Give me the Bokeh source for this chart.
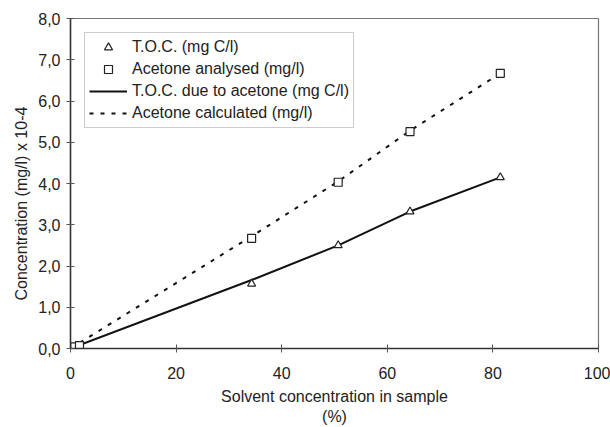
from bokeh.plotting import figure
from bokeh.models import Range1d, FixedTicker, Legend, LegendItem, Title
from bokeh.embed import file_html
from bokeh.resources import INLINE

# ---- data ----
toc_x = [0.2, 1.0, 34.3, 50.7, 64.3, 81.4]
toc_y = [0.0, 0.03, 1.57, 2.50, 3.32, 4.15]

acet_x = [0.8, 1.7, 34.3, 50.7, 64.3, 81.4]
acet_y = [0.04, 0.07, 2.67, 4.03, 5.26, 6.67]

toc_calc_x = [0.0, 34.3, 50.7, 64.3, 81.4]
toc_calc_y = [0.0, 1.66, 2.50, 3.32, 4.15]

acet_calc_x = [0.0, 34.3, 50.7, 64.3, 81.4]
acet_calc_y = [0.0, 2.72, 4.05, 5.28, 6.67]

x_ticks = [0, 20, 40, 60, 80, 100]
y_ticks = [0, 1, 2, 3, 4, 5, 6, 7, 8]
y_tick_labels = ["0,0", "1,0", "2,0", "3,0", "4,0", "5,0", "6,0", "7,0", "8,0"]

x_title = "Solvent concentration in sample\n(%)"
y_title = "Concentration (mg/l) x 10-4"

FONT = "Liberation Sans"

p = figure(width=610, height=427, output_backend="svg", toolbar_location=None,
           x_range=Range1d(0, 100), y_range=Range1d(0, 8),
           min_border_left=70, min_border_right=12, min_border_top=18, min_border_bottom=79)

p.background_fill_color = "white"
p.border_fill_color = "white"
p.outline_line_color = "#777777"
p.outline_line_width = 1.2
p.grid.visible = False

solid = p.line(toc_calc_x, toc_calc_y, line_color="#111111", line_width=2)
dashed = p.line(acet_calc_x, acet_calc_y, line_color="#111111", line_width=2, line_dash="4 7")
tri = p.scatter(toc_x, toc_y, marker="triangle", size=8, line_color="#222222",
                line_width=1.2, fill_color="white")
sq = p.scatter(acet_x, acet_y, marker="square", size=8, line_color="#222222",
               line_width=1.2, fill_color="white")

for ax in (p.xaxis[0], p.yaxis[0]):
    ax.axis_line_color = "#333333"
    ax.axis_line_width = 1.5
    ax.major_tick_line_color = "#555555"
    ax.major_tick_in = 4
    ax.major_tick_out = 4
    ax.minor_tick_line_color = None
    ax.major_label_text_font = FONT
    ax.major_label_text_font_size = "16px"
    ax.major_label_text_color = "#222222"
    ax.axis_label_text_font = FONT
    ax.axis_label_text_font_size = "16px"
    ax.axis_label_text_font_style = "normal"
    ax.axis_label_text_color = "#222222"

p.xaxis.ticker = FixedTicker(ticks=x_ticks)
p.yaxis.ticker = FixedTicker(ticks=y_ticks)
p.yaxis.major_label_overrides = {t: l for t, l in zip(y_ticks, y_tick_labels)}
p.xaxis.major_label_standoff = 14
p.yaxis.major_label_standoff = 6
p.xaxis.axis_label = x_title
p.xaxis.axis_label_standoff = 6

# y title as a side title, shifted along the axis to sit a little below the frame centre
ytitle = Title(text=y_title, align="left", offset=48, standoff=12,
               text_font=FONT, text_font_size="16px", text_font_style="normal",
               text_color="#222222")
p.add_layout(ytitle, "left")

legend = Legend(items=[
    LegendItem(label="T.O.C. (mg C/l)", renderers=[tri]),
    LegendItem(label="Acetone analysed (mg/l)", renderers=[sq]),
    LegendItem(label="T.O.C. due to acetone (mg C/l)", renderers=[solid]),
    LegendItem(label="Acetone calculated (mg/l)", renderers=[dashed]),
], location="top_left")
legend.margin = 14
legend.padding = 4
legend.spacing = 2
legend.label_height = 20
legend.glyph_height = 20
legend.glyph_width = 38
legend.label_standoff = 5
legend.label_text_font = FONT
legend.label_text_font_size = "16px"
legend.label_text_color = "#222222"
legend.border_line_color = "#999999"
legend.border_line_width = 1
legend.background_fill_alpha = 1.0
p.add_layout(legend, "center")

open("out.html", "w").write(file_html(p, INLINE))
